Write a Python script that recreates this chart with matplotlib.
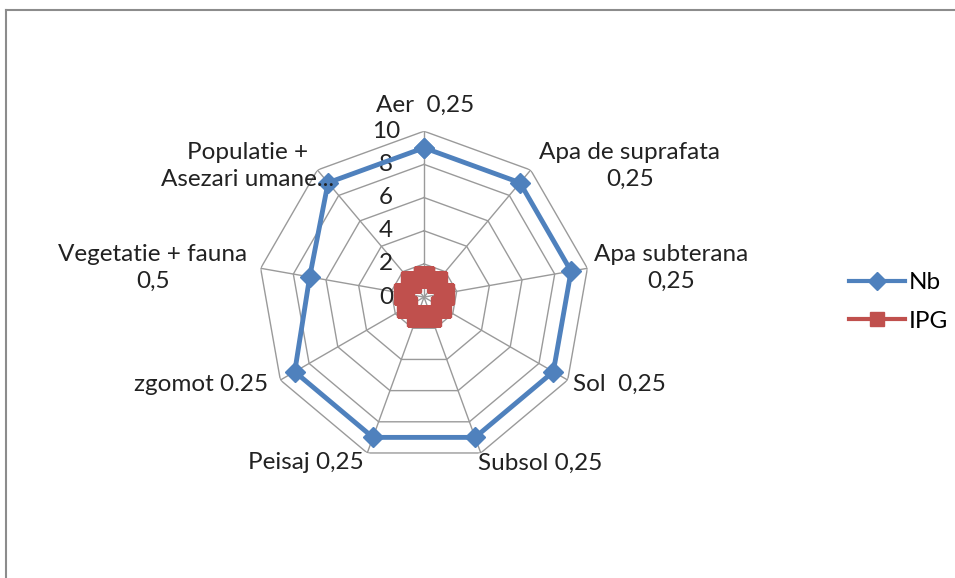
import numpy as np
import matplotlib.pyplot as plt
from matplotlib.lines import Line2D

plt.rcParams['font.family'] = ['Lato', 'DejaVu Sans']

# Categories (with their weights) and series values
categories = ["Aer  0,25", "Apa de suprafata\n0,25", "Apa subterana\n0,25",
              "Sol  0,25", "Subsol 0,25", "Peisaj 0,25", "zgomot 0.25",
              "Vegetatie + fauna\n0,5", "Populatie +\nAsezari umane..."]
nb = [9, 9, 9, 9, 9, 9, 9, 7, 9]
ipg = [1.2, 1.2, 1.2, 1.2, 1.2, 1.2, 1.2, 1.2, 1.2]
rings = [2, 4, 6, 8, 10]
ring_labels = ["2", "4", "6", "8", "10"]
series_names = ["Nb", "IPG"]

# label offsets (pixels) from the outer vertex of each spoke
label_pos = [(1, 26, 'center'), (99, 4, 'center'), (84, 0, 'center'),
             (5, -4, 'left'), (-3, -10, 'left'), (-4, -10, 'right'),
             (-12, -4, 'right'), (-108, 0, 'center'), (-70, 4, 'center')]

blue = '#4F81BD'
red = '#C0504D'
grid_c = '#9A9A9A'
fs = 17.5

fig = plt.figure(figsize=(9.55, 5.78), dpi=100)
ax = fig.add_axes([0.270, 0.199, 0.348, 0.574], projection='polar')
ax.set_theta_zero_location('N')
ax.set_theta_direction(-1)
ax.set_ylim(0, 10)
ax.grid(False)
ax.spines['polar'].set_visible(False)
ax.set_xticks([])
ax.set_yticks([])
ax.patch.set_alpha(0)

n = len(categories)
angles = list(np.linspace(0, 2 * np.pi, n, endpoint=False))
closed = angles + [angles[0] + 2 * np.pi]

# polygon grid
for r in rings:
    ax.plot(closed, [r] * (n + 1), color=grid_c, lw=1, zorder=1)
for a in angles:
    ax.plot([a, a], [0, 10], color=grid_c, lw=1, zorder=1)

# radial tick labels
for r, lab in zip([0] + rings, ["0"] + ring_labels):
    ax.annotate(lab, xy=(0, r), xytext=(-38, 0), textcoords='offset pixels',
                ha='center', va='center', fontsize=fs, color='#222222')

ax.plot(closed, nb + nb[:1], color=blue, lw=3.5, marker='D', ms=10, zorder=3)
ax.plot(closed, ipg + ipg[:1], color=red, lw=5, marker='s', ms=14, zorder=3)

for a, lab, (dx, dy, ha) in zip(angles, categories, label_pos):
    ax.annotate(lab, xy=(a, 10), xytext=(dx, dy), textcoords='offset pixels',
                ha=ha, va='center', fontsize=fs, color='#222222',
                multialignment='center', linespacing=1.35,
                annotation_clip=False)

# legend handles drawn like the Excel legend (thinner than the plotted series)
handles = [Line2D([], [], color=blue, lw=3, marker='D', ms=9),
           Line2D([], [], color=red, lw=3, marker='s', ms=10)]
fig.legend(handles, series_names, loc='center left',
           bbox_to_anchor=(0.876, 0.4775), frameon=False, fontsize=fs,
           handlelength=2.3, handletextpad=0.15, labelspacing=0.7, borderpad=0)

# chart area frame (left and top edges)
fig.add_artist(Line2D([0.006, 0.006], [0, 0.983], color='#8C8C8C', lw=1.5))
fig.add_artist(Line2D([0.006, 1.0], [0.983, 0.983], color='#8C8C8C', lw=1.5))

fig.savefig('out.png', dpi=100)
